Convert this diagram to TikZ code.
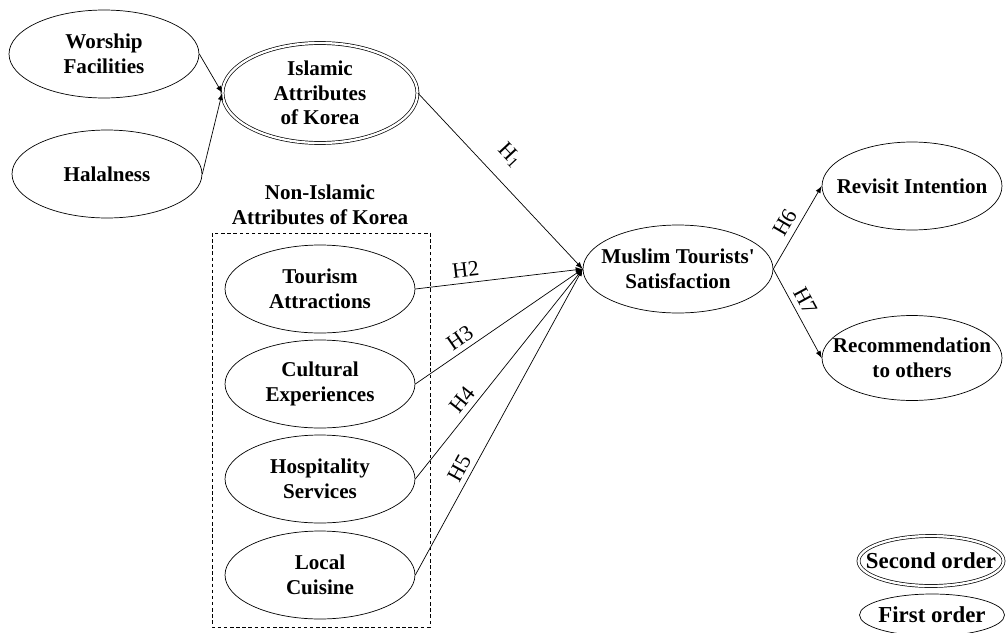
\documentclass[tikz,border=0pt]{standalone}
\usepackage{fontspec}
\setmainfont{Liberation Serif}
\usetikzlibrary{shapes.geometric,arrows}
\tikzset{>=latex}

\begin{document}
\begin{tikzpicture}[x=0.02cm,y=-0.02cm,
  factor/.style={draw, ellipse, inner xsep=-0.4cm, inner ysep=0pt, minimum width=3.8cm, minimum height=1.76cm, align=center, font=\fontsize{12}{14}\selectfont\bfseries},
  second/.style={factor, double, double distance=1.3pt},
  hyp/.style={above, sloped, inner sep=3pt, font=\fontsize{12.5}{14}\selectfont}]

\useasboundingbox (0,0) rectangle (1007,632);

% Islamic attributes
\node[factor] (wf) at (104,54) {Worship\\Facilities};
\node[factor] (hal) at (107,174) {Halalness};
\node[second, minimum width=3.9cm, minimum height=2cm] (isl) at (320,93) {Islamic\\Attributes\\of Korea};

% Non-Islamic attributes
\node[font=\fontsize{12}{14}\selectfont\bfseries, align=center] (nonisl) at (320,205) {Non-Islamic\\Attributes of Korea};
\draw[dash pattern=on 2pt off 1.5pt] (212,233) rectangle (430,627);

\node[factor] (ta) at (320,289) {Tourism\\Attractions};
\node[factor] (ce) at (320,384) {Cultural\\Experiences};
\node[factor] (hs) at (320,479) {Hospitality\\Services};
\node[factor] (lc) at (320,575) {Local\\Cuisine};

% Outcomes
\node[factor] (mts) at (678,269) {Muslim Tourists\textquotesingle\\Satisfaction};
\node[factor, minimum width=3.6cm] (ri) at (912,186) {Revisit Intention};
\node[factor, minimum width=3.6cm, minimum height=1.7cm] (rec) at (912,358) {Recommendation\\to others};

% Legend
\node[second, minimum width=2.9cm, minimum height=1cm, font=\fontsize{13}{15}\selectfont\bfseries] (so) at (931,561) {Second order};
\node[factor, minimum width=2.9cm, minimum height=0.84cm, font=\fontsize{13}{15}\selectfont\bfseries] (fo) at (932,615) {First order};

\draw[->] (wf.east) -- (isl.west);
\draw[->] (hal.east) -- (isl.west);
\draw[->] (isl.east) -- node[hyp, pos=0.45, above=6pt] {H\textsubscript{1}} (mts.west);
\draw[->] (ta.east) -- node[hyp, pos=0.31] {H2} (mts.west);
\draw[->] (ce.east) -- node[hyp, pos=0.31] {H3} (mts.west);
\draw[->] (hs.east) -- node[hyp, pos=0.34] {H4} (mts.west);
\draw[->] (lc.east) -- node[hyp, pos=0.33] {H5} (mts.west);
\draw[->] (mts.east) -- node[hyp, pos=0.48] {H6} (ri.west);
\draw[->] (mts.east) -- node[hyp, pos=0.43] {H7} (rec.west);

\end{tikzpicture}
\end{document}
